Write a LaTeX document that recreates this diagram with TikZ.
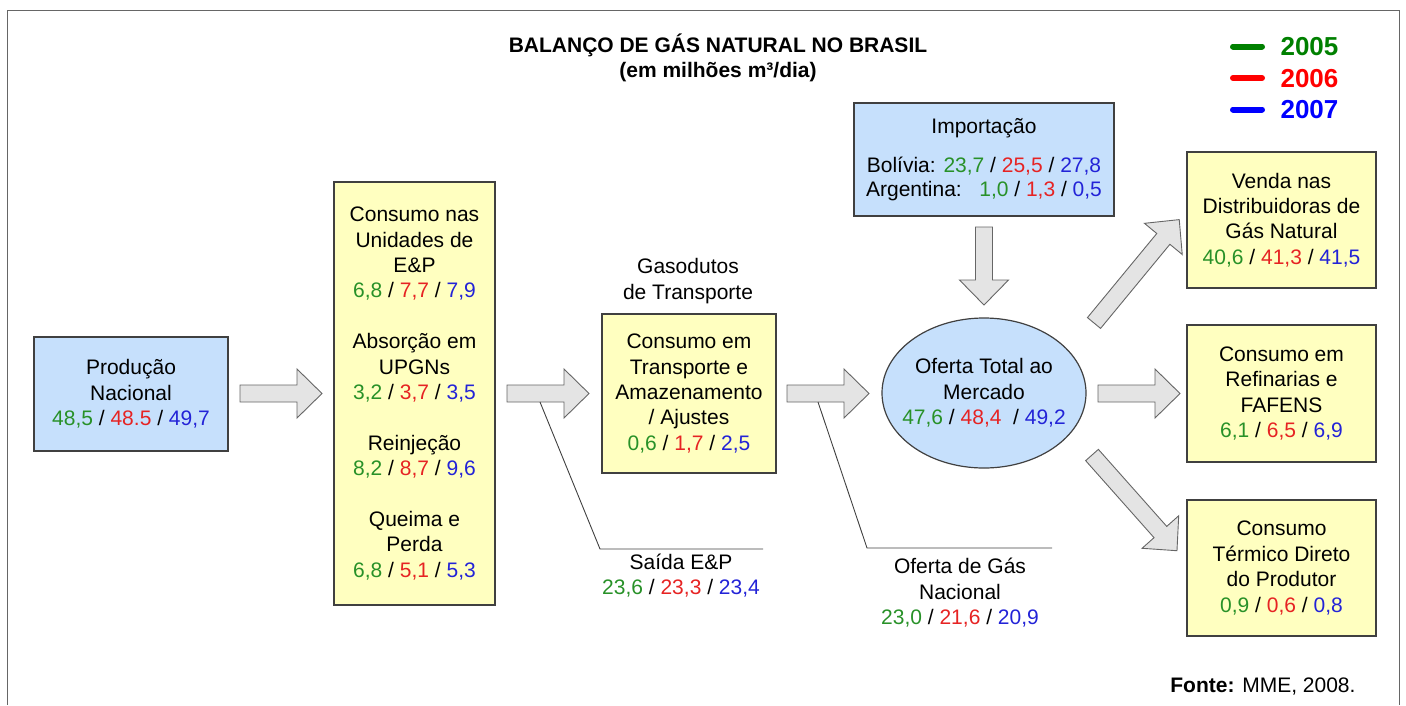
\documentclass[tikz,border=0pt]{standalone}
\usepackage{fontspec}
\setmainfont{Liberation Sans}
\usetikzlibrary{shapes.geometric}
\definecolor{grn}{RGB}{40,145,40}
\definecolor{rd}{RGB}{230,35,35}
\definecolor{blu}{RGB}{35,35,215}
\definecolor{legverde}{RGB}{0,128,0}
\definecolor{legverm}{RGB}{255,0,0}
\definecolor{legazul}{RGB}{0,0,255}
\definecolor{caixaazul}{RGB}{198,224,252}
\definecolor{caixaamarela}{RGB}{255,255,192}
\definecolor{setacinza}{RGB}{228,228,228}
\newcommand{\vals}[3]{\textcolor{grn}{#1} / \textcolor{rd}{#2} / \textcolor{blu}{#3}}
\tikzset{
  caixa/.style={draw=black!75, line width=1.2pt, align=center, inner sep=0pt},
  azul/.style={caixa, fill=caixaazul},
  amarela/.style={caixa, fill=caixaamarela},
  seta/.style={draw=black!60, fill=setacinza, line width=0.9pt},
  guia/.style={draw=black!75, line width=0.9pt},
  pics/setagrossa/.style={code={
    \path[seta] (0,-8.5) -- (#1-25,-8.5) -- (#1-25,-24.5) -- (#1,0)
      -- (#1-25,24.5) -- (#1-25,8.5) -- (0,8.5) -- cycle;}}
}
\begin{document}
\begin{tikzpicture}[x=1pt,y=-1pt,font=\fontsize{21}{25.4}\selectfont]
  \useasboundingbox (0,0) rectangle (1406,705);
  \draw[black!60,line width=1.5pt] (7.5,705) -- (7.5,10.5) -- (1399.5,10.5) -- (1399.5,705); %moldura

  \node[font=\fontsize{21}{25}\selectfont\bfseries,align=center] (titulo) at (718,57.5)
    {BALANÇO DE GÁS NATURAL NO BRASIL\\(em milhões m³/dia)}; %titulo

  % legenda
  \foreach \ano/\cor [count=\i] in {2005/legverde,2006/legverm,2007/legazul}{
    \draw[\cor,line width=6pt,line cap=round] (1233,15+31.5*\i) -- (1262,15+31.5*\i);
    \node[anchor=west,text=\cor,font=\fontsize{26}{30}\selectfont\bfseries] (leg\i) at (1277,15.5+31.5*\i) {\ano};
  }

  % caixas
  \node[azul,minimum width=194,minimum height=114] (prod) at (131,394)
    {Produção\\Nacional\\\vals{48,5}{48.5}{49,7}};
  \node[amarela,minimum width=161,minimum height=423] (etp) at (414.5,393.5)
    {Consumo nas\\Unidades de\\E\&P\\\vals{6,8}{7,7}{7,9}\\[25.4pt]
     Absorção em\\UPGNs\\\vals{3,2}{3,7}{3,5}\\[25.4pt]
     Reinjeção\\\vals{8,2}{8,7}{9,6}\\[25.4pt]
     Queima e\\Perda\\\vals{6,8}{5,1}{5,3}};
  \node[align=center] (gasod) at (688,281) {Gasodutos\\de Transporte};
  \node[amarela,minimum width=174,minimum height=159] (transp) at (689,393.5)
    {Consumo em\\Transporte e\\Amazenamento\\/ Ajustes\\\vals{0,6}{1,7}{2,5}};
  \node[azul,ellipse,minimum width=204,minimum height=150,
    label={[align=center]center:Oferta Total ao\\Mercado\\\textcolor{grn}{47,6} / \textcolor{rd}{48,4}\ \ / \textcolor{blu}{49,2}}]
    (oferta) at (984,393) {};
  \node[azul,minimum width=260,minimum height=113] (import) at (984,159.5)
    {Importação\\[13pt]Bolívia: \vals{23,7}{25,5}{27,8}\\[-1.5pt]
     Argentina:\ \ \ \vals{1,0}{1,3}{0,5}};
  \node[amarela,minimum width=189,minimum height=136] (venda) at (1281.5,220)
    {Venda nas\\Distribuidoras de\\Gás Natural\\\vals{40,6}{41,3}{41,5}};
  \node[amarela,minimum width=189,minimum height=137] (refin) at (1281.5,393.5)
    {Consumo em\\Refinarias e\\FAFENS\\\vals{6,1}{6,5}{6,9}};
  \node[amarela,minimum width=189,minimum height=136] (termico) at (1281.5,568)
    {Consumo\\Térmico Direto\\do Produtor\\\vals{0,9}{0,6}{0,8}};

  % setas
  \pic at (240,393.5) {setagrossa=82};
  \pic at (507,393.5) {setagrossa=82};
  \pic at (787,393.5) {setagrossa=82};
  \pic at (1098,393.5) {setagrossa=82};
  \pic[rotate=-90] at (984,227) {setagrossa=78};
  \pic[rotate=50.5] at (1094,323) {setagrossa=134};
  \pic[rotate=-48.4] at (1092,455) {setagrossa=128};

  % saidas
  \node[align=center] (saida) at (681,575.5) {Saída E\&P\\\vals{23,6}{23,3}{23,4}};
  \node[align=center] (ofnac) at (960,593) {Oferta de Gás\\Nacional\\\vals{23,0}{21,6}{20,9}};
  \coordinate (s1) at (540,402);
  \coordinate (s2) at (600,549);
  \coordinate (s3) at (763,549);
  \coordinate (n1) at (818,402);
  \coordinate (n2) at (867,548);
  \coordinate (n3) at (1052,548);
  \draw[guia] (s1) -- (s2) -- (s3);
  \draw[guia] (n1) -- (n2) -- (n3);

  \node[anchor=east] (fonte) at (1359,687) {\textbf{Fonte:} MME, 2008.};
\end{tikzpicture}
\end{document}
